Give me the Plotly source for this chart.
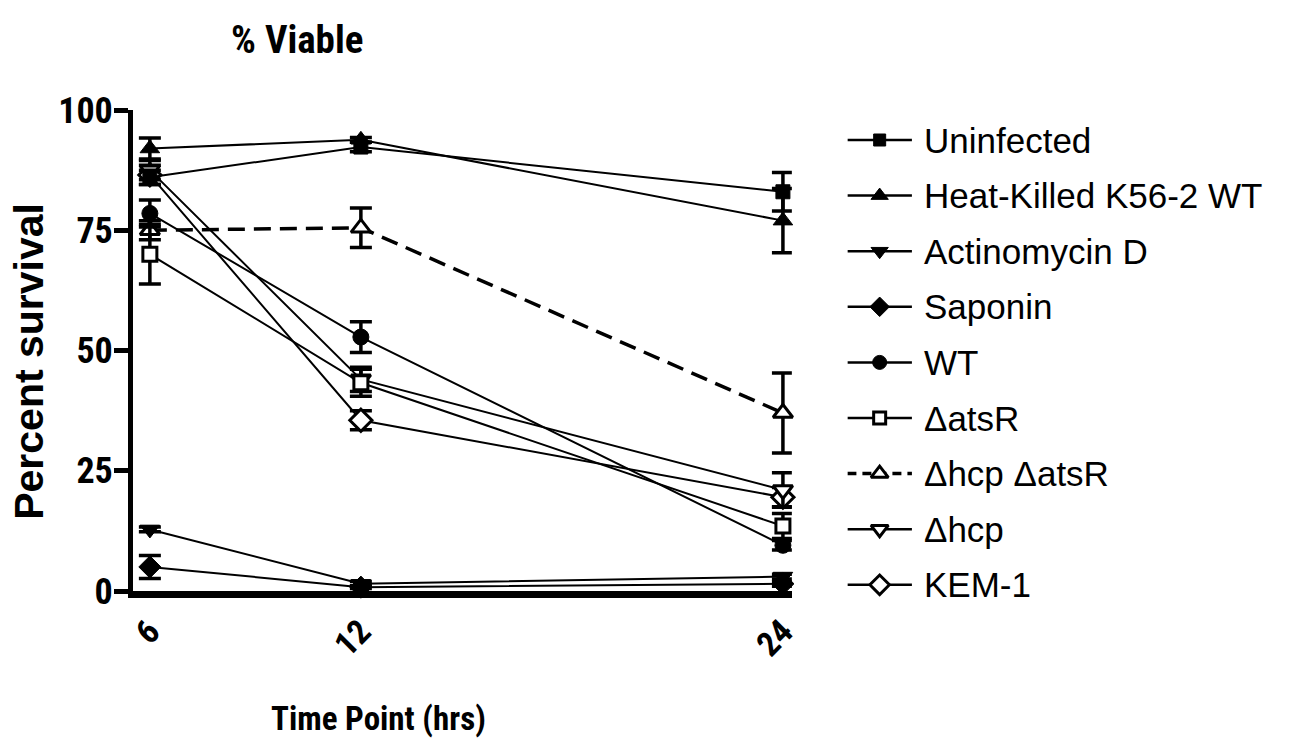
import plotly.graph_objects as go

# Time points (hours) and tick labels
hours = [6, 12, 24]
hour_labels = ["6", "12", "24"]
y_ticks = [0, 25, 50, 75, 100]

series_names = [
    "Uninfected",
    "Heat-Killed K56-2 WT",
    "Actinomycin D",
    "Saponin",
    "WT",
    "ΔatsR",
    "Δhcp ΔatsR",
    "Δhcp",
    "KEM-1",
]

# Mean percent survival and error (SEM) per series
uninfected = [86.0, 92.3, 83.0]
uninfected_err = [1.5, 1.0, 4.0]
heat_killed = [92.0, 93.8, 77.0]
heat_killed_err = [2.2, 0.5, 6.7]
actinomycin_d = [12.8, 1.5, 3.0]
actinomycin_d_err = [0.5, 0.5, 0.5]
saponin = [5.0, 0.8, 1.5]
saponin_err = [2.4, 0.3, 0.5]
wt = [78.5, 52.8, 9.5]
wt_err = [2.8, 3.2, 1.0]
atsr = [70.0, 43.3, 13.5]
atsr_err = [6.2, 2.8, 2.6]
hcp_atsr = [75.0, 75.5, 37.0]
hcp_atsr_err = [2.0, 4.1, 8.3]
hcp = [87.5, 44.0, 21.0]
hcp_err = [2.0, 2.5, 3.6]
kem1 = [86.5, 35.5, 19.5]
kem1_err = [2.0, 2.0, 2.0]

values = [uninfected, heat_killed, actinomycin_d, saponin, wt, atsr, hcp_atsr, hcp, kem1]
errors = [uninfected_err, heat_killed_err, actinomycin_d_err, saponin_err, wt_err,
          atsr_err, hcp_atsr_err, hcp_err, kem1_err]

# Marker / line style per series
styles = [
    dict(symbol="square", size=14, fill="black", dash="solid", lw=2),
    dict(symbol="triangle-up", size=17, fill="black", dash="solid", lw=2),
    dict(symbol="triangle-down", size=17, fill="black", dash="solid", lw=2),
    dict(symbol="diamond", size=17, fill="black", dash="solid", lw=2),
    dict(symbol="circle", size=16, fill="black", dash="solid", lw=2),
    dict(symbol="square", size=14, fill="white", dash="solid", lw=2),
    dict(symbol="triangle-up", size=17, fill="white", dash="17px,9px", lw=3.5),
    dict(symbol="triangle-down", size=17, fill="white", dash="solid", lw=2),
    dict(symbol="diamond", size=17, fill="white", dash="solid", lw=2),
]

COND = ("Noto Sans Condensed, Roboto Condensed, Liberation Sans Narrow, "
        "Liberation Sans, sans-serif")
SANS = "Liberation Sans, Arial, sans-serif"

# Page geometry (pixels)
W, H = 1292, 749
ML, MT, MB = 133, 110, 158
PLOT_RIGHT = 797
LEG_LEFT = 853
paper_w = W - ML
paper_h = H - MT - MB


def fx(px):
    return (px - ML) / paper_w


def fy(py):
    return (H - MB - py) / paper_h


fig = go.Figure()

# Open-symbol series first so the filled symbols sit on top
for name, vals, errs, st in reversed(list(zip(series_names, values, errors, styles))):
    fig.add_trace(go.Scatter(
        x=hours, y=vals, name=name, mode="lines+markers",
        line=dict(color="black", width=st["lw"], dash=st["dash"]),
        marker=dict(symbol=st["symbol"], size=st["size"], color=st["fill"],
                    line=dict(color="black", width=3 if st["fill"] == "white" else 1)),
        error_y=dict(type="data", array=errs, visible=True, color="black",
                     thickness=3.5, width=11),
        cliponaxis=False, showlegend=False, xaxis="x", yaxis="y",
    ))

# Legend drawn on its own hidden axes: one row per series
LEG_LINE = 65
for i, (name, st) in enumerate(zip(series_names, styles)):
    leg_dash = "9px,6px" if st["dash"] != "solid" else "solid"
    fig.add_trace(go.Scatter(
        x=[0, LEG_LINE], y=[i, i], mode="lines",
        line=dict(color="black", width=2.5 if leg_dash == "solid" else 3.5, dash=leg_dash),
        showlegend=False, hoverinfo="skip", xaxis="x2", yaxis="y2", cliponaxis=False,
    ))
    fig.add_trace(go.Scatter(
        x=[LEG_LINE / 2], y=[i], mode="markers",
        marker=dict(symbol=st["symbol"], size=st["size"] - 2, color=st["fill"],
                    line=dict(color="black", width=3 if st["fill"] == "white" else 1)),
        showlegend=False, hoverinfo="skip", xaxis="x2", yaxis="y2", cliponaxis=False,
    ))
    fig.add_annotation(
        x=LEG_LINE + 10, y=i, xref="x2", yref="y2", text=name, showarrow=False,
        xanchor="left", yanchor="middle", font=dict(family=SANS, size=35, color="black"),
    )

ROW0, ROW_STEP = 140, 55.6

fig.update_layout(
    width=W, height=H,
    margin=dict(l=ML, r=0, t=MT, b=MB, pad=0),
    paper_bgcolor="white", plot_bgcolor="white",
    xaxis=dict(
        domain=[0, fx(PLOT_RIGHT)],
        range=[6 - (150 - ML) / 35.45, 24 + (PLOT_RIGHT - 788) / 35.45],
        tickvals=hours, ticktext=hour_labels, tickangle=-45, ticks="",
        tickfont=dict(family=COND, size=34, color="black", weight="bold"),
        showline=True, linewidth=7, linecolor="black",
        showgrid=False, zeroline=False,
    ),
    yaxis=dict(
        range=[0, 100], tickvals=y_ticks, ticks="outside", ticklen=14, tickwidth=5,
        tickcolor="black", ticklabelstandoff=-6,
        tickfont=dict(family=COND, size=36, color="black", weight="bold"),
        showline=True, linewidth=5, linecolor="black",
        showgrid=False, zeroline=False,
    ),
    xaxis2=dict(domain=[fx(LEG_LEFT), 1], range=[0, W - LEG_LEFT],
                visible=False, anchor="y2"),
    yaxis2=dict(domain=[0, 1],
                range=[(H - MB - ROW0) / ROW_STEP, (MT - ROW0) / ROW_STEP],
                visible=False, anchor="x2"),
)

fig.add_annotation(x=fx(298), y=fy(40), xref="paper", yref="paper", text="% Viable",
                   showarrow=False, xanchor="center", yanchor="middle",
                   font=dict(family=COND, size=39, color="black", weight="bold"))
fig.add_annotation(x=fx(380), y=fy(718), xref="paper", yref="paper", text="Time Point (hrs)",
                   showarrow=False, xanchor="center", yanchor="middle",
                   font=dict(family=COND, size=33, color="black", weight="bold"))
fig.add_annotation(x=fx(28), y=fy(361), xref="paper", yref="paper", text="Percent survival",
                   showarrow=False, xanchor="center", yanchor="middle", textangle=-90,
                   font=dict(family=SANS, size=41, color="black", weight="bold"))

fig.write_html("out.html")
